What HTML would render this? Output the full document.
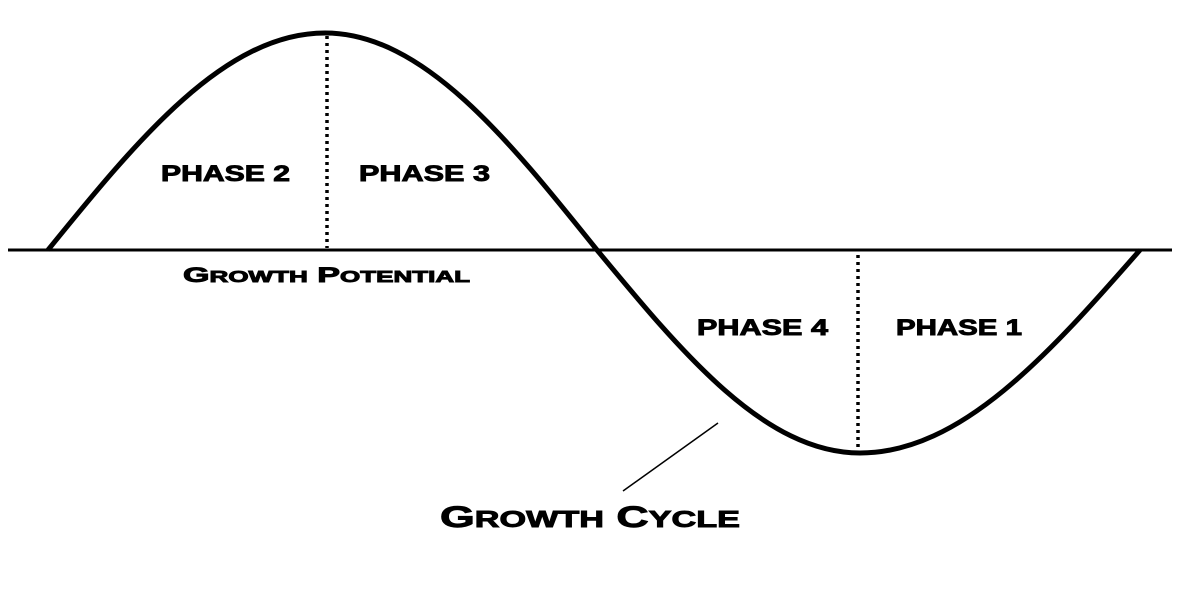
<!DOCTYPE html>
<html><head><style>
html,body{margin:0;padding:0;background:#fff;}
svg{display:block;}
text{font-family:"Liberation Sans",sans-serif;font-weight:bold;fill:#000;stroke:#000;stroke-width:0.9;}
</style></head><body>
<svg width="1188" height="601" viewBox="0 0 1188 601" xmlns="http://www.w3.org/2000/svg">
<rect width="1188" height="601" fill="#fff"/>
<line x1="8" y1="250" x2="1172" y2="250" stroke="#000" stroke-width="3"/>
<path d="M48,250 C138,139 225,33 325,33 C423,33 508,139 597,250 C683,354 765,453 860,453 C961,453 1049,354 1140,250" fill="none" stroke="#000" stroke-width="5"/>
<line x1="327" y1="36" x2="327" y2="248" stroke="#000" stroke-width="3.5" stroke-dasharray="3,4"/>
<line x1="858" y1="255" x2="858" y2="450" stroke="#000" stroke-width="3.5" stroke-dasharray="3,4"/>
<line x1="718" y1="423" x2="623" y2="491" stroke="#000" stroke-width="1.5"/>
<text x="161" y="181" font-size="22" textLength="129" lengthAdjust="spacingAndGlyphs">PHASE 2</text>
<text x="359" y="181" font-size="22" textLength="131" lengthAdjust="spacingAndGlyphs">PHASE 3</text>
<text x="697" y="335" font-size="22" textLength="131" lengthAdjust="spacingAndGlyphs">PHASE 4</text>
<text x="896" y="335" font-size="22" textLength="126" lengthAdjust="spacingAndGlyphs">PHASE 1</text>
<text x="183" y="282" font-size="21" textLength="287" lengthAdjust="spacingAndGlyphs">G<tspan font-size="16">ROWTH</tspan> P<tspan font-size="16">OTENTIAL</tspan></text>
<text x="440" y="527" font-size="30" textLength="300" lengthAdjust="spacingAndGlyphs">G<tspan font-size="23">ROWTH</tspan> C<tspan font-size="23">YCLE</tspan></text>
</svg>
</body></html>
